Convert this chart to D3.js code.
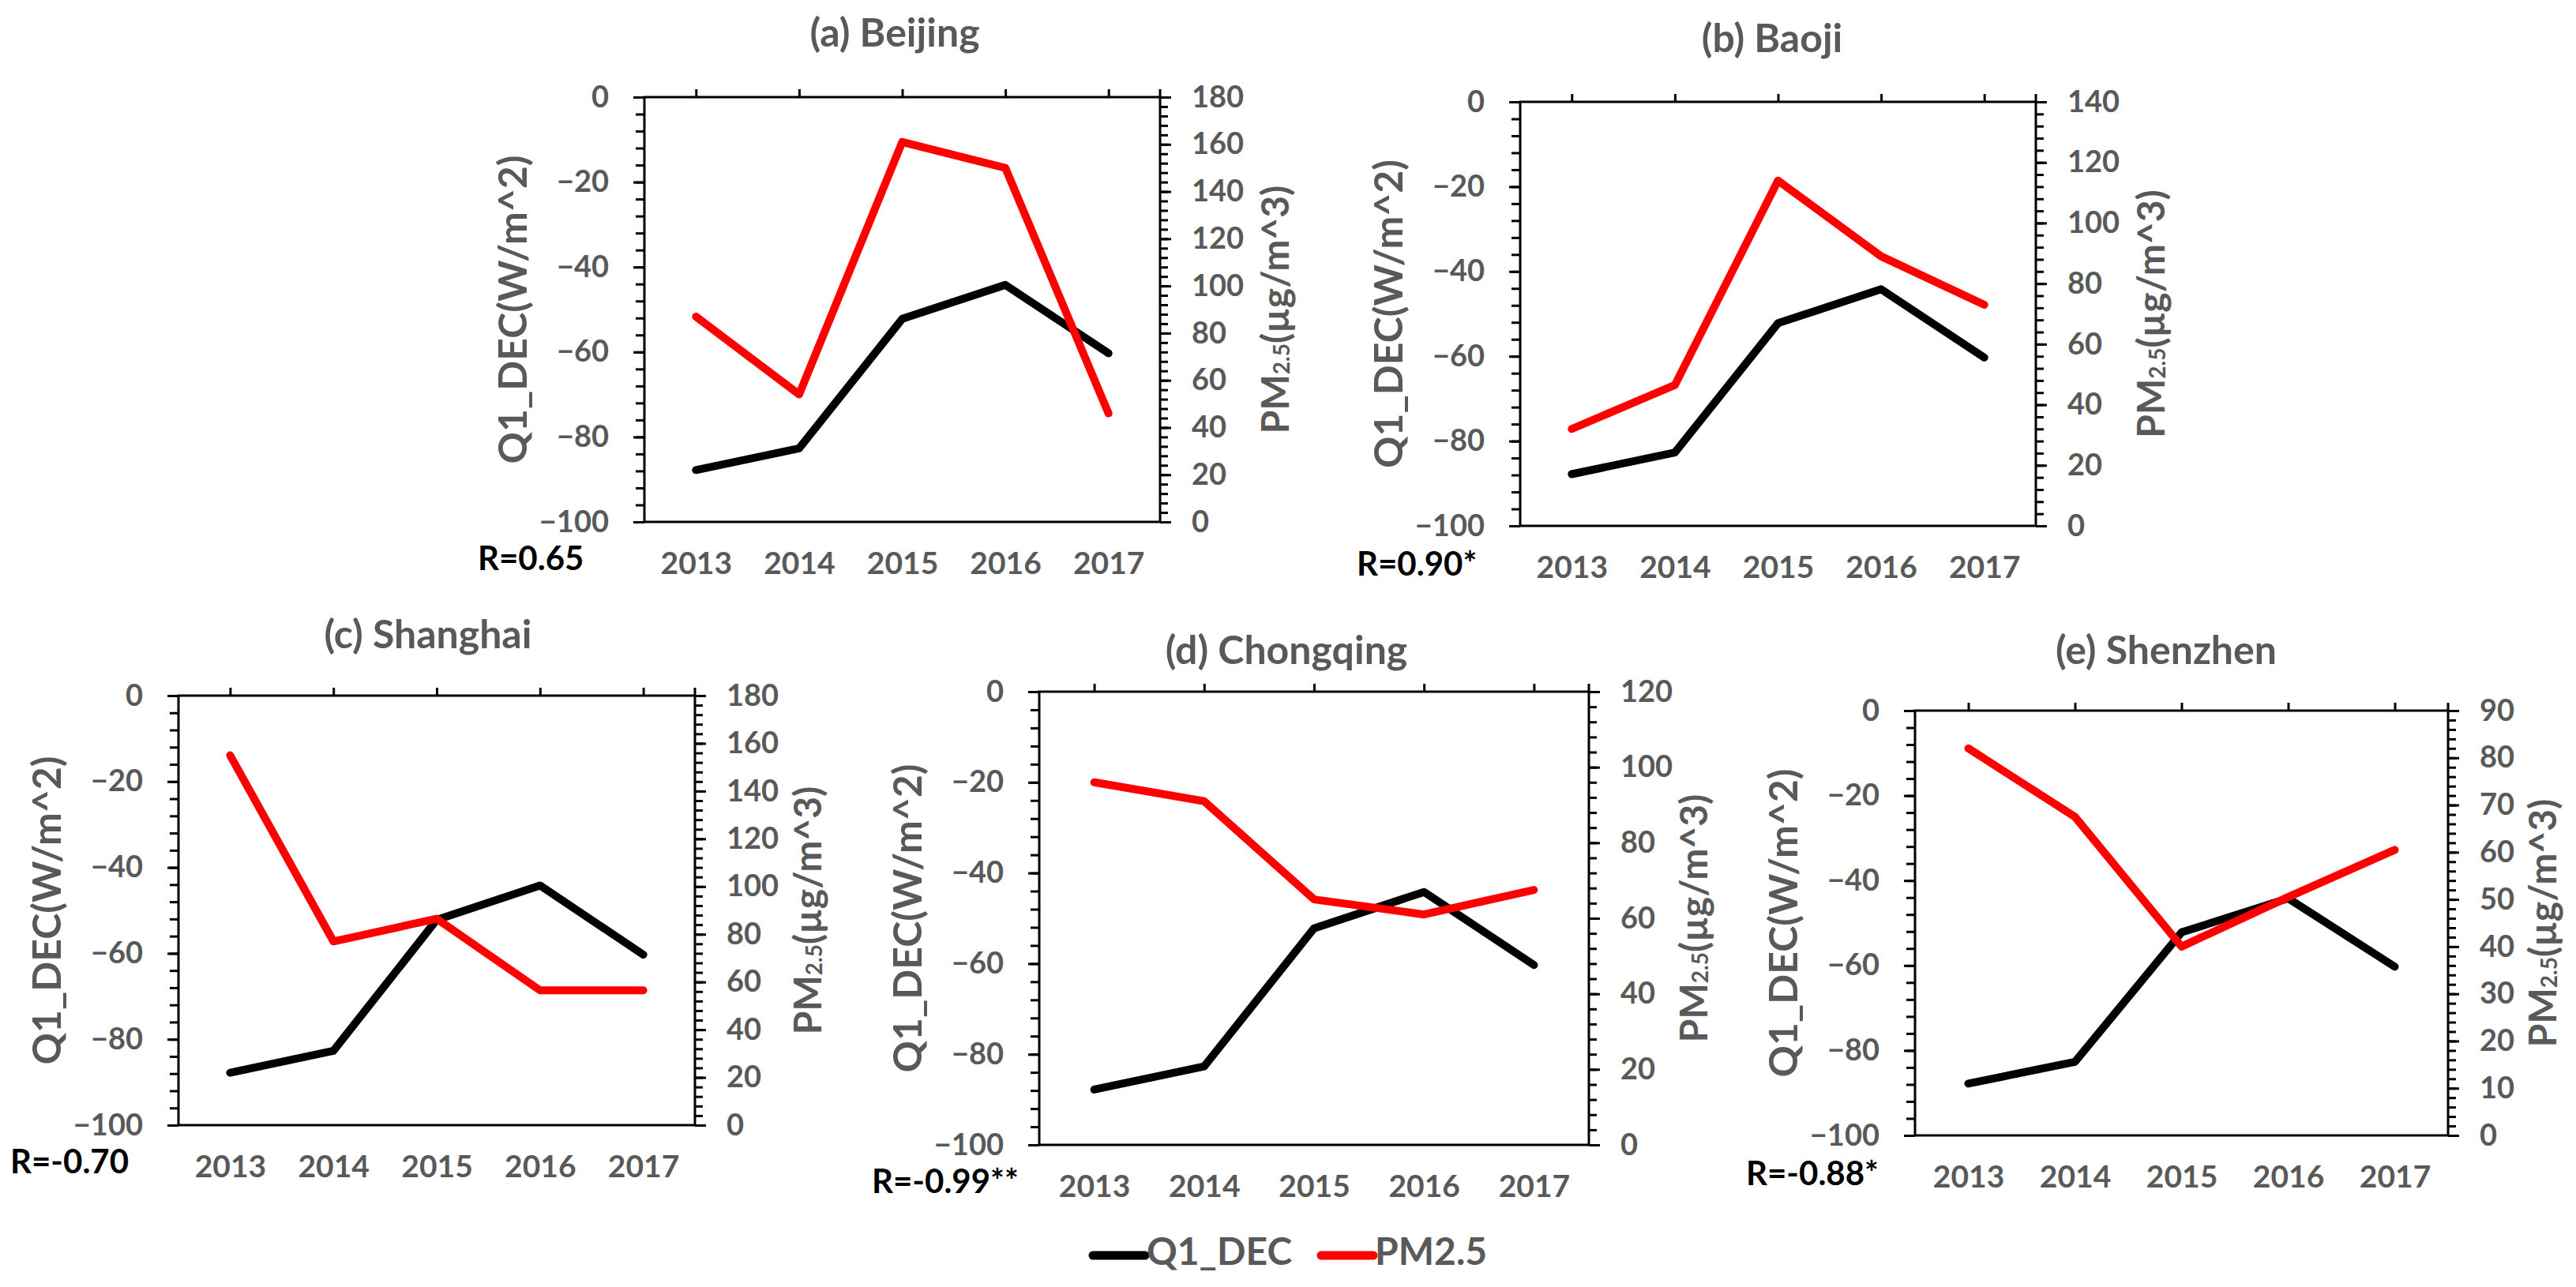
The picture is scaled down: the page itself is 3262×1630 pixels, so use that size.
<!DOCTYPE html>
<html>
<head>
<meta charset="utf-8" />
<title>Q1_DEC and PM2.5, five cities</title>
<style type="text/css">
body { margin:0; background:#ffffff; }
text { font-family: Lato, "Open Sans", sans-serif; font-weight: bold; }
</style>
<script src="https://d3js.org/d3.v7.min.js"></script>
</head>
<body>
<div id="chart"></div>
<script>

// data
var years = [2013, 2014, 2015, 2016, 2017];
var q1Dec = [-87.8, -82.7, -52.2, -44.2, -60.3];

var pmBeijing   = [87, 54, 161, 150, 46];
var pmBaoji     = [32, 46.5, 114, 89, 73];
var pmShanghai  = [155, 77, 86.5, 56.5, 56.5];
var pmChongqing = [96, 91, 65, 61, 67.5];
var pmShenzhen  = [82, 67.5, 40, 50.5, 60.5];

var cityTitles = ["(a) Beijing", "(b) Baoji", "(c) Shanghai", "(d) Chongqing", "(e) Shenzhen"];
var rLabels = ["R=0.65", "R=0.90*", "R=-0.70", "R=-0.99**", "R=-0.88*"];
var pmSeries = [pmBeijing, pmBaoji, pmShanghai, pmChongqing, pmShenzhen];
var pmMax = [180, 140, 180, 120, 90];
var pmStep = [20, 20, 20, 20, 10];
var leftTicks = d3.range(-100, 1, 20);
var legendNames = ["Q1_DEC", "PM2.5"];

// where each panel sits on the page
var layout = [
  {left:816,  right:1469, top:123, bottom:661,  tx:1133, ty:46,  rx:605,  ry:711,  rt:151},
  {left:1925, right:2578, top:129, bottom:666,  tx:2244, ty:53,  rx:1718, ry:718,  rt:151},
  {left:226,  right:880,  top:881, bottom:1425, tx:542,  ty:808, rx:13,   ry:1475, rt:148},
  {left:1316, right:2012, top:876, bottom:1450, tx:1629, ty:828, rx:1104, ry:1500, rt:138},
  {left:2425, right:3100, top:900, bottom:1438, tx:2743, ty:828, rx:2211, ry:1490, rt:125}
];

var grey = "#595959";

var svg = d3.select("#chart")
  .append("svg")
    .attr("width", 3262)
    .attr("height", 1630);

function styleAxis(sel, size) {
  sel.attr("font-family", null).attr("font-size", null);
  sel.select(".domain").remove();
  sel.selectAll(".tick line").attr("stroke", "#000").attr("stroke-width", 3);
  sel.selectAll(".tick text")
    .attr("fill", grey)
    .style("font-size", size + "px");
}

function drawPanel(i) {
  var L = layout[i];
  var g = svg.append("g");

  var x = d3.scalePoint().domain(years).range([L.left, L.right]).padding(0.5);
  var yL = d3.scaleLinear().domain([-100, 0]).range([L.bottom, L.top]);
  var yR = d3.scaleLinear().domain([0, pmMax[i]]).range([L.bottom, L.top]);

  // left axis, minor then major
  g.append("g")
    .attr("transform", "translate(" + L.left + ",0)")
    .call(d3.axisLeft(yL).tickValues(d3.range(-100, 1, 4)).tickSize(11).tickFormat(""))
    .call(styleAxis, 38);
  g.append("g")
    .attr("transform", "translate(" + L.left + ",0)")
    .call(d3.axisLeft(yL).tickValues(leftTicks).tickSize(14).tickPadding(31))
    .call(styleAxis, 38);

  // right axis
  g.append("g")
    .attr("transform", "translate(" + L.right + ",0)")
    .call(d3.axisRight(yR).tickValues(d3.range(0, pmMax[i] + 0.1, pmStep[i] / 5)).tickSize(10).tickFormat(""))
    .call(styleAxis, 38);
  g.append("g")
    .attr("transform", "translate(" + L.right + ",0)")
    .call(d3.axisRight(yR).tickValues(d3.range(0, pmMax[i] + 0.1, pmStep[i])).tickSize(14).tickPadding(26))
    .call(styleAxis, 38);

  // category ticks on the top edge, year labels under the plot
  g.append("g")
    .attr("transform", "translate(0," + L.top + ")")
    .call(d3.axisTop(x).tickSize(10).tickFormat(""))
    .call(styleAxis, 38);
  g.append("g")
    .attr("transform", "translate(0," + L.bottom + ")")
    .call(d3.axisBottom(x).tickSize(0).tickPadding(38))
    .call(styleAxis, 39);

  // frame
  g.append("rect")
    .attr("x", L.left).attr("y", L.top)
    .attr("width", L.right - L.left).attr("height", L.bottom - L.top)
    .attr("fill", "none").attr("stroke", "#000").attr("stroke-width", 3);
  g.append("line")
    .attr("x1", L.right).attr("x2", L.right)
    .attr("y1", L.top).attr("y2", L.top - 10)
    .attr("stroke", "#000").attr("stroke-width", 3);

  var lineL = d3.line().x(function(d, j) { return x(years[j]); }).y(function(d) { return yL(d); });
  var lineR = d3.line().x(function(d, j) { return x(years[j]); }).y(function(d) { return yR(d); });

  g.append("path")
    .datum(q1Dec)
    .attr("d", lineL)
    .attr("fill", "none").attr("stroke", "#000").attr("stroke-width", 10)
    .attr("stroke-linejoin", "round").attr("stroke-linecap", "round");
  g.append("path")
    .datum(pmSeries[i])
    .attr("d", lineR)
    .attr("fill", "none").attr("stroke", "#ff0000").attr("stroke-width", 10)
    .attr("stroke-linejoin", "round").attr("stroke-linecap", "round");

  // axis titles
  var cy = (L.top + L.bottom) / 2;
  g.append("text")
    .attr("transform", "translate(" + (L.left - 162) + "," + cy + ") rotate(-90)")
    .attr("text-anchor", "middle")
    .attr("dominant-baseline", "middle")
    .attr("fill", grey)
    .style("font-size", "50px")
    .text("Q1_DEC(W/m^2)");

  var rt = g.append("text")
    .attr("transform", "translate(" + (L.right + L.rt) + "," + cy + ") rotate(-90)")
    .attr("text-anchor", "middle")
    .attr("dominant-baseline", "middle")
    .attr("fill", grey)
    .style("font-size", "48px");
  rt.append("tspan").text("PM");
  rt.append("tspan").style("font-size", "28px").attr("dy", 6).text("2.5");
  rt.append("tspan").attr("dy", -6).text("(\u00b5g/m^3)");

  g.append("text")
    .attr("x", L.tx).attr("y", L.ty)
    .attr("text-anchor", "middle")
    .attr("dominant-baseline", "middle")
    .attr("fill", grey)
    .style("font-size", "50px")
    .text(cityTitles[i]);

  g.append("text")
    .attr("x", L.rx).attr("y", L.ry)
    .attr("dominant-baseline", "middle")
    .attr("fill", "#000")
    .style("font-size", "42px")
    .text(rLabels[i]);
}

for (var i = 0; i < layout.length; i++) drawPanel(i);

// legend
var legendX = [1384, 1673];
var legendColors = ["#000", "#ff0000"];
var leg = svg.append("g").attr("transform", "translate(0,1590)");
legendNames.forEach(function(name, k) {
  leg.append("line")
    .attr("x1", legendX[k]).attr("x2", legendX[k] + 66)
    .attr("y1", 0).attr("y2", 0)
    .attr("stroke", legendColors[k]).attr("stroke-width", 11)
    .attr("stroke-linecap", "round");
  leg.append("text")
    .attr("x", legendX[k] + 68).attr("y", 0)
    .attr("dominant-baseline", "middle")
    .attr("fill", grey)
    .style("font-size", "48px")
    .text(name);
});

</script>
</body>
</html>
